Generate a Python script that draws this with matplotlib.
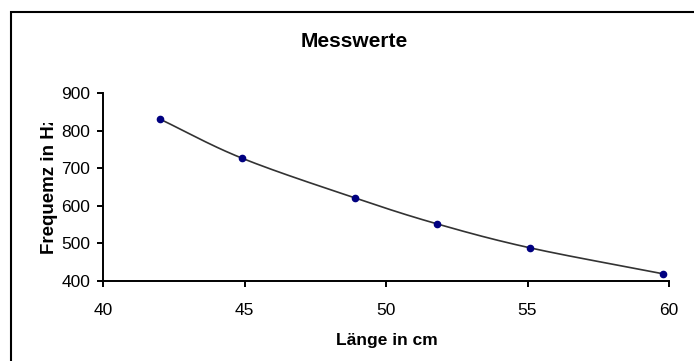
import numpy as np
import matplotlib
matplotlib.use("Agg")
import matplotlib.pyplot as plt
from matplotlib.patches import Rectangle
from matplotlib.transforms import Bbox

laenge = [42.0, 44.9, 48.9, 51.8, 55.1, 59.8]
frequenz = [831, 727, 621, 552, 488, 419]
x_ticks = [40, 45, 50, 55, 60]
y_ticks = [400, 500, 600, 700, 800, 900]

plt.rcParams["font.family"] = ["Liberation Sans", "DejaVu Sans"]

W, H = 694, 361
fig = plt.figure(figsize=(W / 100, H / 100), dpi=100)
ax = fig.add_axes([103 / W, 1 - 281 / H, (669 - 103) / W, (281 - 93) / H])


def smooth(x, y, n=30):
    # Catmull-Rom style smoothing, like Excel's "smoothed line"
    x = np.asarray(x, float)
    y = np.asarray(y, float)
    px = np.concatenate([[2 * x[0] - x[1]], x, [2 * x[-1] - x[-2]]])
    py = np.concatenate([[2 * y[0] - y[1]], y, [2 * y[-1] - y[-2]]])
    t = np.linspace(0, 1, n)
    xs, ys = [], []
    for i in range(1, len(px) - 2):
        for p, out in ((px, xs), (py, ys)):
            p0, p1, p2, p3 = p[i - 1], p[i], p[i + 1], p[i + 2]
            out.append(0.5 * (2 * p1 + (-p0 + p2) * t
                              + (2 * p0 - 5 * p1 + 4 * p2 - p3) * t**2
                              + (-p0 + 3 * p1 - 3 * p2 + p3) * t**3))
    return np.concatenate(xs), np.concatenate(ys)


sx, sy = smooth(laenge, frequenz)
ax.plot(sx, sy, color="#333333", lw=1.2, zorder=2)
ax.plot(laenge, frequenz, "o", color="#000080", markersize=4.5, zorder=3,
        clip_on=False)

ax.set_xlim(40, 60)
ax.set_ylim(400, 900)
ax.set_xticks(x_ticks)
ax.set_yticks(y_ticks)
for s in ("top", "right"):
    ax.spines[s].set_visible(False)
for s in ("left", "bottom"):
    ax.spines[s].set_linewidth(1.4)
ax.tick_params(direction="out", length=4, width=1.4, labelsize=12.5)
ax.tick_params(axis="x", pad=12)
ax.tick_params(axis="y", pad=5)

fig.text(354 / W, 1 - 47 / H, "Messwerte", ha="center", va="baseline",
         fontsize=15, fontweight="bold")
fig.text(387 / W, 1 - 345 / H, "Länge in cm", ha="center", va="baseline",
         fontsize=12.5, fontweight="bold")
ylab = fig.text(50 / W, 1 - 254 / H, "Frequemz in Hz", rotation=90,
                ha="center", va="bottom", fontsize=13.5, fontweight="bold")
# label is cut off at the top in the original
ylab.set_clip_box(Bbox.from_extents(0, 0, W, H - 123))
ylab.set_clip_on(True)

# chart area border (right and bottom edges are outside the picture)
fig.patches.append(Rectangle((11 / W, -0.1), 1.2, 1 - 12 / H + 0.1,
                             transform=fig.transFigure, fill=False,
                             edgecolor="black", lw=1.5))

fig.savefig("out.png", dpi=100)
